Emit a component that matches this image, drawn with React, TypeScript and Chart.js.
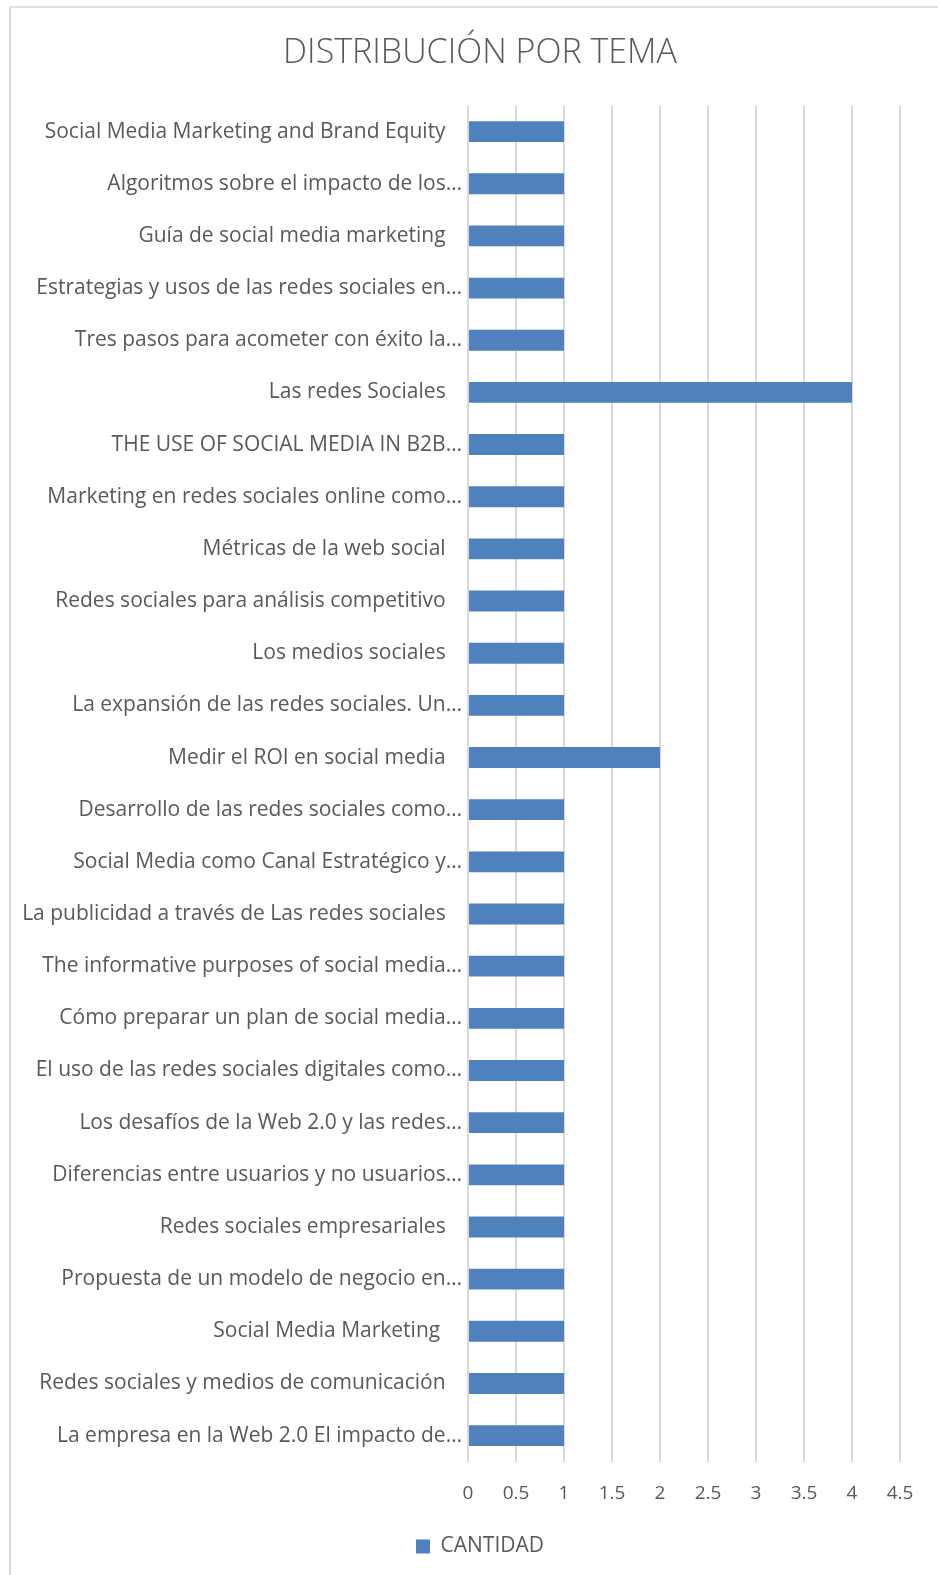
import React, { useEffect, useRef } from "react";
import { Chart, registerables } from "chart.js";

Chart.register(...registerables);

const NB = "\u00A0";
const categories: string[] = [
  "Social Media Marketing and Brand Equity" + NB.repeat(3),
  "Algoritmos sobre el impacto de los…",
  "Guía de social media marketing" + NB.repeat(3),
  "Estrategias y usos de las redes sociales en…",
  "Tres pasos para acometer con éxito la…",
  "Las redes Sociales" + NB.repeat(3),
  "THE USE OF SOCIAL MEDIA IN B2B…",
  "Marketing en redes sociales online como…",
  "Métricas de la web social" + NB.repeat(3),
  "Redes sociales para análisis competitivo" + NB.repeat(3),
  "Los medios sociales" + NB.repeat(3),
  "La expansión de las redes sociales. Un…",
  "Medir el ROI en social media" + NB.repeat(3),
  "Desarrollo de las redes sociales como…",
  "Social Media como Canal Estratégico y…",
  "La publicidad a través de Las redes sociales" + NB.repeat(3),
  "The informative purposes of social media…",
  "Cómo preparar un plan de social media…",
  "El uso de las redes sociales digitales como…",
  "Los desafíos de la Web 2.0 y las redes…",
  "Diferencias entre usuarios y no usuarios…",
  "Redes sociales empresariales" + NB.repeat(3),
  "Propuesta de un modelo de negocio en…",
  "Social Media Marketing" + NB.repeat(4),
  "Redes sociales y medios de comunicación" + NB.repeat(3),
  "La empresa en la Web 2.0 El impacto de…",
];

const cantidad: number[] = [1, 1, 1, 1, 1, 4, 1, 1, 1, 1, 1, 1, 2, 1, 1, 1, 1, 1, 1, 1, 1, 1, 1, 1, 1, 1];

const xMin = 0;
const xMax = 4.5;
const xStep = 0.5;

const TEXT = "#595959";
const FONT = "'Open Sans', 'Noto Sans', sans-serif";

// The original chart object extends past the right edge of the picture,
// so its title and legend are centred a bit to the right of the canvas centre.
const centerBoxes = {
  id: "centerBoxes",
  afterLayout(chart: any) {
    const boxes = [chart.titleBlock, chart.legend];
    for (const b of boxes) {
      if (!b) continue;
      b.left = 60;
      b.right = 900;
      b.width = 840;
    }
  },
};

export default function App() {
  const ref = useRef<HTMLCanvasElement | null>(null);

  useEffect(() => {
    if (!ref.current) return;
    const chart = new Chart(ref.current, {
      type: "bar",
      data: {
        labels: categories,
        datasets: [
          {
            label: "CANTIDAD",
            data: cantidad,
            backgroundColor: "#4f81bd",
            borderWidth: 0,
            categoryPercentage: 1,
            barPercentage: 0.4,
          },
        ],
      },
      plugins: [centerBoxes],
      options: {
        indexAxis: "y",
        responsive: false,
        animation: false,
        devicePixelRatio: 1,
        layout: { padding: { left: 0, right: 38, top: 0, bottom: 8 } },
        plugins: {
          title: {
            display: true,
            text: "DISTRIBUCIÓN POR TEMA",
            color: TEXT,
            font: { family: FONT, size: 34, weight: "300", lineHeight: 1.2 },
            padding: { top: 33, bottom: 31.7 },
          },
          legend: {
            display: true,
            position: "bottom",
            labels: {
              color: TEXT,
              boxWidth: 14,
              boxHeight: 14,
              font: { family: FONT, size: 21 },
              padding: 11.5,
            },
          },
          tooltip: { enabled: false },
        },
        scales: {
          x: {
            min: xMin,
            max: xMax,
            ticks: {
              stepSize: xStep,
              color: TEXT,
              font: { family: FONT, size: 19 },
              padding: 20,
              callback: (v: any) => String(Number(v)),
            },
            grid: { color: "#d9d9d9", lineWidth: 2, drawTicks: false },
            border: { display: false },
          },
          y: {
            ticks: {
              color: TEXT,
              font: { family: FONT, size: 21 },
              padding: 6,
              autoSkip: false,
            },
            grid: { display: false, drawTicks: false },
            border: { display: false },
            afterFit: (scale: any) => {
              scale.width = 468;
            },
          },
        },
      },
    });
    return () => chart.destroy();
  }, []);

  return (
    <div style={{ position: "absolute", left: 0, top: 0, width: 938, height: 1575, overflow: "hidden", background: "#fff" }}>
      <div
        style={{
          position: "absolute",
          left: 9,
          top: 6,
          width: 960,
          height: 1600,
          borderLeft: "2px solid #d9d9d9",
          borderTop: "2px solid #e2e2e2",
          boxSizing: "border-box",
        }}
      />
      <canvas ref={ref} width={938} height={1575} style={{ position: "absolute", left: 0, top: 0, width: 938, height: 1575 }} />
    </div>
  );
}
